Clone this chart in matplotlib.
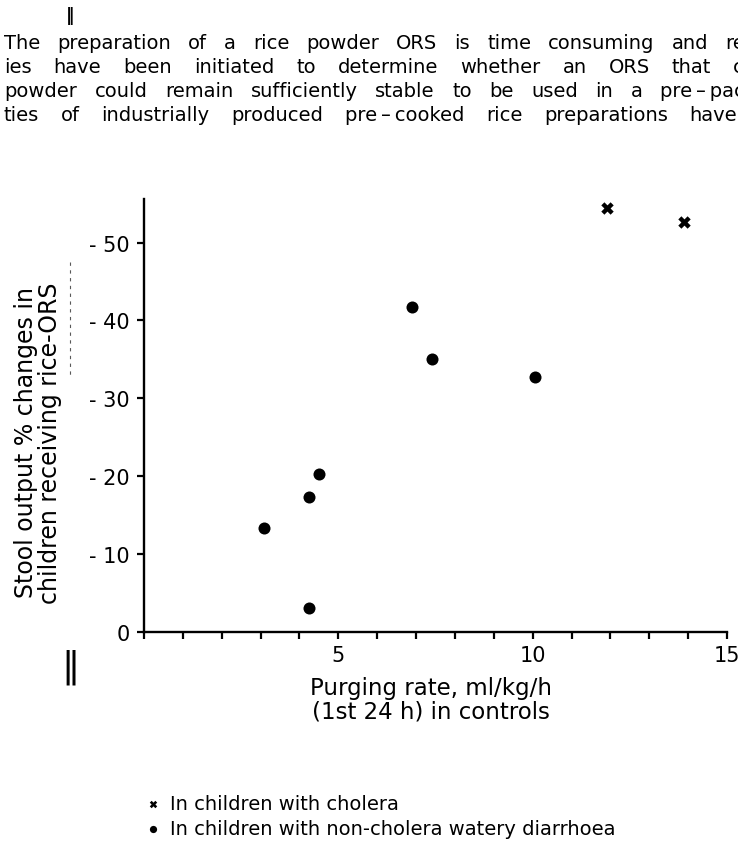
import matplotlib
matplotlib.use("Agg")
import matplotlib.pyplot as plt
from matplotlib.ticker import MultipleLocator, FixedLocator
from matplotlib.lines import Line2D

plt.rcParams['font.family'] = ['DejaVu Sans']

# Data
cholera_x = [11.9, 13.9]
cholera_y = [-54.5, -52.6]
noncholera_x = [3.1, 4.25, 4.5, 4.25, 6.9, 7.4, 10.05]
noncholera_y = [-13.4, -17.3, -20.3, -3.1, -41.7, -35.0, -32.7]

y_ticks = [0, -10, -20, -30, -40, -50]
y_tick_labels = ['0', '- 10', '- 20', '- 30', '- 40', '- 50']
x_ticks = [5, 10, 15]

body_lines = [
    "The preparation of a rice powder ORS is time consuming and re",
    "ies have been initiated to determine whether an ORS that c",
    "powder could remain sufficiently stable to be used in a pre\u2009\u2013\u2009pac",
    "ties of industrially produced pre\u2009\u2013\u2009cooked rice preparations have",
]
legend_labels = ["In children with cholera",
                 "In children with non-cholera watery diarrhoea"]

W, H = 738, 845
fig = plt.figure(figsize=(W / 100, H / 100), dpi=100)

ax = fig.add_axes([144 / W, 1 - 633 / H, (727 - 144) / W, (633 - 200) / H])
ax.scatter(cholera_x, cholera_y, marker='X', s=80, color='black',
           linewidths=0, label=legend_labels[0], zorder=3)
ax.scatter(noncholera_x, noncholera_y, marker='o', s=75, color='black',
           linewidths=0, label=legend_labels[1], zorder=3)

ax.set_xlim(0, 15)
ax.set_ylim(0, -55.6)
for s in ['top', 'right']:
    ax.spines[s].set_visible(False)
for s in ['left', 'bottom']:
    ax.spines[s].set_linewidth(1.7)
ax.xaxis.set_major_locator(FixedLocator(x_ticks))
ax.xaxis.set_minor_locator(MultipleLocator(1))
ax.yaxis.set_major_locator(FixedLocator(y_ticks))
ax.set_yticklabels(y_tick_labels)
ax.tick_params(axis='both', which='both', direction='out', width=1.6,
               length=5, labelsize=15, color='black')
ax.tick_params(axis='x', which='major', pad=4)
ax.tick_params(axis='y', which='major', pad=5)

ax.set_xlabel("Purging rate, ml/kg/h\n(1st 24 h) in controls",
              fontsize=16.5, linespacing=1.05)
ax.xaxis.set_label_coords((431 - 144) / 583, (633 - 677) / 433)
ax.set_ylabel("Stool output % changes in\nchildren receiving rice-ORS",
              fontsize=17, linespacing=1.0)
ax.yaxis.set_label_coords((62 - 144) / 583, (633 - 443) / 433)

# Legend below the chart
fig.legend(loc='upper left', bbox_to_anchor=(143 / W, 1 - 795 / H),
           frameon=False, fontsize=14, handletextpad=0.4,
           labelspacing=0.32, markerscale=0.6, handlelength=1.0,
           borderaxespad=0, borderpad=0)

# Justified body text at the top
fig.canvas.draw()
renderer = fig.canvas.get_renderer()
left_px = 4
right_px = [745, 744, 745, 737]
y_px = [43.5, 67.5, 91.5, 115.5]
for line, yp, rp in zip(body_lines, y_px, right_px):
    words = line.split(' ')
    arts = []
    widths = []
    for w in words:
        t = fig.text(0, 1 - yp / H, w, fontsize=14, va='center', ha='left')
        bb = t.get_window_extent(renderer)
        arts.append(t)
        widths.append(bb.width)
    gap = (rp - left_px - sum(widths)) / max(len(words) - 1, 1)
    x = left_px
    for t, wd in zip(arts, widths):
        t.set_x(x / W)
        x += wd + gap

# scan marks
fig.text(70 / W, 1 - 16 / H, "\u2016", fontsize=12, ha='center', va='center',
         fontweight='bold')
fig.text(70 / W, 1 - 667 / H, "\u2016", fontsize=26, ha='center', va='center')
fig.add_artist(Line2D([70 / W, 70 / W], [1 - 263 / H, 1 - 376 / H],
                      transform=fig.transFigure, color='0.35', lw=0.8,
                      ls=(0, (3, 4))))

fig.savefig("out.png", dpi=100)
